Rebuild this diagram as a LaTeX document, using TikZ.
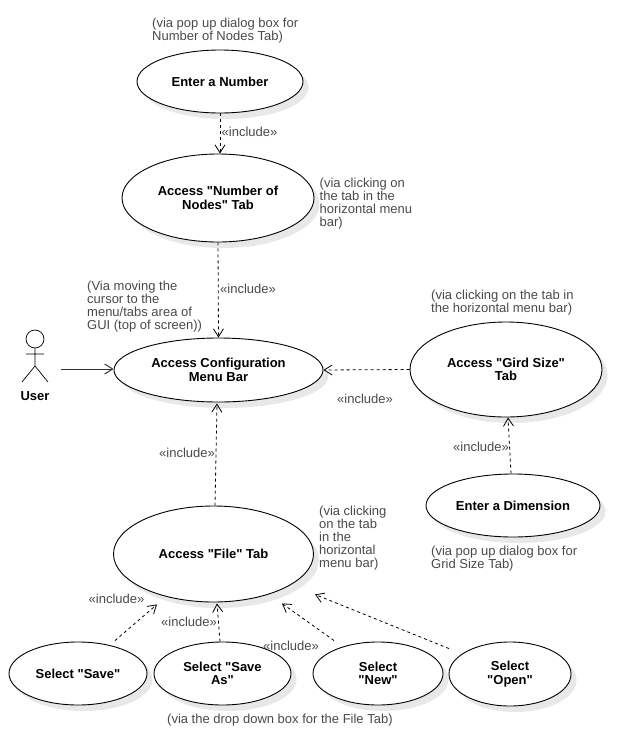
\documentclass[tikz,border=0pt]{standalone}
\usepackage{fontspec}
\setmainfont{Liberation Sans}[Ligatures=TeXOff]
\usetikzlibrary{arrows.meta,shadows,shapes.geometric}
\definecolor{notegray}{HTML}{4A4A4A}
\tikzset{
  uc/.style={ellipse,draw=black,line width=0.9pt,fill=white,inner sep=0pt,align=center,
    font=\fontsize{13}{13.5}\selectfont\bfseries,
    drop shadow={shadow xshift=5.5pt,shadow yshift=-6pt,fill=black!9,opacity=1}},
  note/.style={anchor=north west,inner sep=0pt,align=left,text=notegray,font=\fontsize{13}{13}\selectfont},
  inc/.style={draw=black,dash pattern=on 3pt off 3pt,line width=0.8pt,-{Straight Barb[length=8pt,width=10pt]}},
  assoc/.style={draw=black!80,line width=1pt,-{Straight Barb[length=8pt,width=10pt]}},
  actorline/.style={draw=black,line width=0.7pt},
}
\begin{document}
\begin{tikzpicture}[x=1pt,y=-1pt]
\useasboundingbox (0,0) rectangle (642,745);
\fill[white] (0,0) rectangle (642,745);
% use cases
\node[uc,minimum width=166pt,minimum height=63pt] (num) at (220,81.5) {Enter a Number};
\node[uc,minimum width=192pt,minimum height=88pt] (nodes) at (218,198) {Access "Number of\\Nodes" Tab};
\node[uc,minimum width=209pt,minimum height=64pt] (conf) at (218.5,370) {Access Configuration\\Menu Bar};
\node[uc,minimum width=192pt,minimum height=95pt] (grid) at (506,369.5) {Access "Gird Size"\\Tab};
\node[uc,minimum width=174pt,minimum height=63pt] (dim) at (513,505.5) {Enter a Dimension};
\node[uc,minimum width=200pt,minimum height=96pt] (file) at (213.5,554) {Access "File" Tab};
\node[uc,minimum width=138pt,minimum height=63pt] (save) at (78,673.5) {Select "Save"};
\node[uc,minimum width=137pt,minimum height=63pt] (saveas) at (222.5,673.5) {Select "Save\\As"};
\node[uc,minimum width=130pt,minimum height=63pt] (new) at (378,673.5) {Select\\"New"};
\node[uc,minimum width=122pt,minimum height=64pt] (open) at (510,674) {Select\\"Open"};
% actor
\node[circle,actorline,draw,minimum size=18pt,inner sep=0pt] (head) at (35,339) {};
\coordinate (hip) at (35,366);
\coordinate (armL) at (26,354);
\coordinate (armR) at (44,354);
\coordinate (legL) at (22,382);
\coordinate (legR) at (48,382);
\draw[actorline] (head.south) -- (hip) (armL) -- (armR) (legL) -- (hip) -- (legR);
\node[font=\fontsize{13}{13.5}\selectfont\bfseries,inner sep=0pt] (user) at (35,396.5) {User};
\coordinate (userout) at (61,369);
% connectors
\draw[assoc] (userout) -- ([yshift=1pt]conf.west);
\draw[inc] (num.south) -- ([xshift=2pt]nodes.north);
\draw[inc] (nodes.south) -- (conf.north);
\draw[inc] (grid.west) -- (conf.east);
\draw[inc] ([xshift=-2pt]dim.north) -- ([xshift=2pt]grid.south);
\draw[inc] ([xshift=1.5pt]file.north) -- ([shift={(-1.5,1)}]conf.south);
\draw[inc] ([shift={(37,-1)}]save.north) -- ([shift={(-56.5,2)}]file.south);
\draw[inc] ([shift={(-2.5,0)}]saveas.north) -- ([shift={(3.5,1)}]file.south);
\draw[inc] ([shift={(-44,-1)}]new.north) -- ([shift={(68.5,1)}]file.south);
\draw[inc] ([shift={(-61,7)}]open.north) -- ([shift={(101.5,-8)}]file.south);
% notes
\node[note] (n1) at (152,17.5) {(via pop up dialog box for\\Number of Nodes Tab)};
\node[note] (n2) at (319.5,177.5) {(via clicking on\\the tab in the\\horizontal menu\\bar)};
\node[note] (n3) at (87,281) {(Via moving the\\cursor to the\\menu/tabs area of\\GUI (top of screen))};
\node[note] (n4) at (431,289.5) {(via clicking on the tab in\\the horizontal menu bar)};
\node[note] (n5) at (319,505.5) {(via clicking\\on the tab\\in the\\horizontal\\menu bar)};
\node[note] (n6) at (431,545.5) {(via pop up dialog box for\\Grid Size Tab)};
\node[note] (n7) at (167,713.5) {(via the drop down box for the File Tab)};
\node[note] (l1) at (221.5,126.5) {«include»};
\node[note] (l2) at (220,283.5) {«include»};
\node[note] (l3) at (337,393.5) {«include»};
\node[note] (l4) at (453,441.5) {«include»};
\node[note] (l5) at (159,447.5) {«include»};
\node[note] (l6) at (88.5,593.5) {«include»};
\node[note] (l7) at (161,616.5) {«include»};
\node[note] (l8) at (263,640.5) {«include»};
\end{tikzpicture}
\end{document}
